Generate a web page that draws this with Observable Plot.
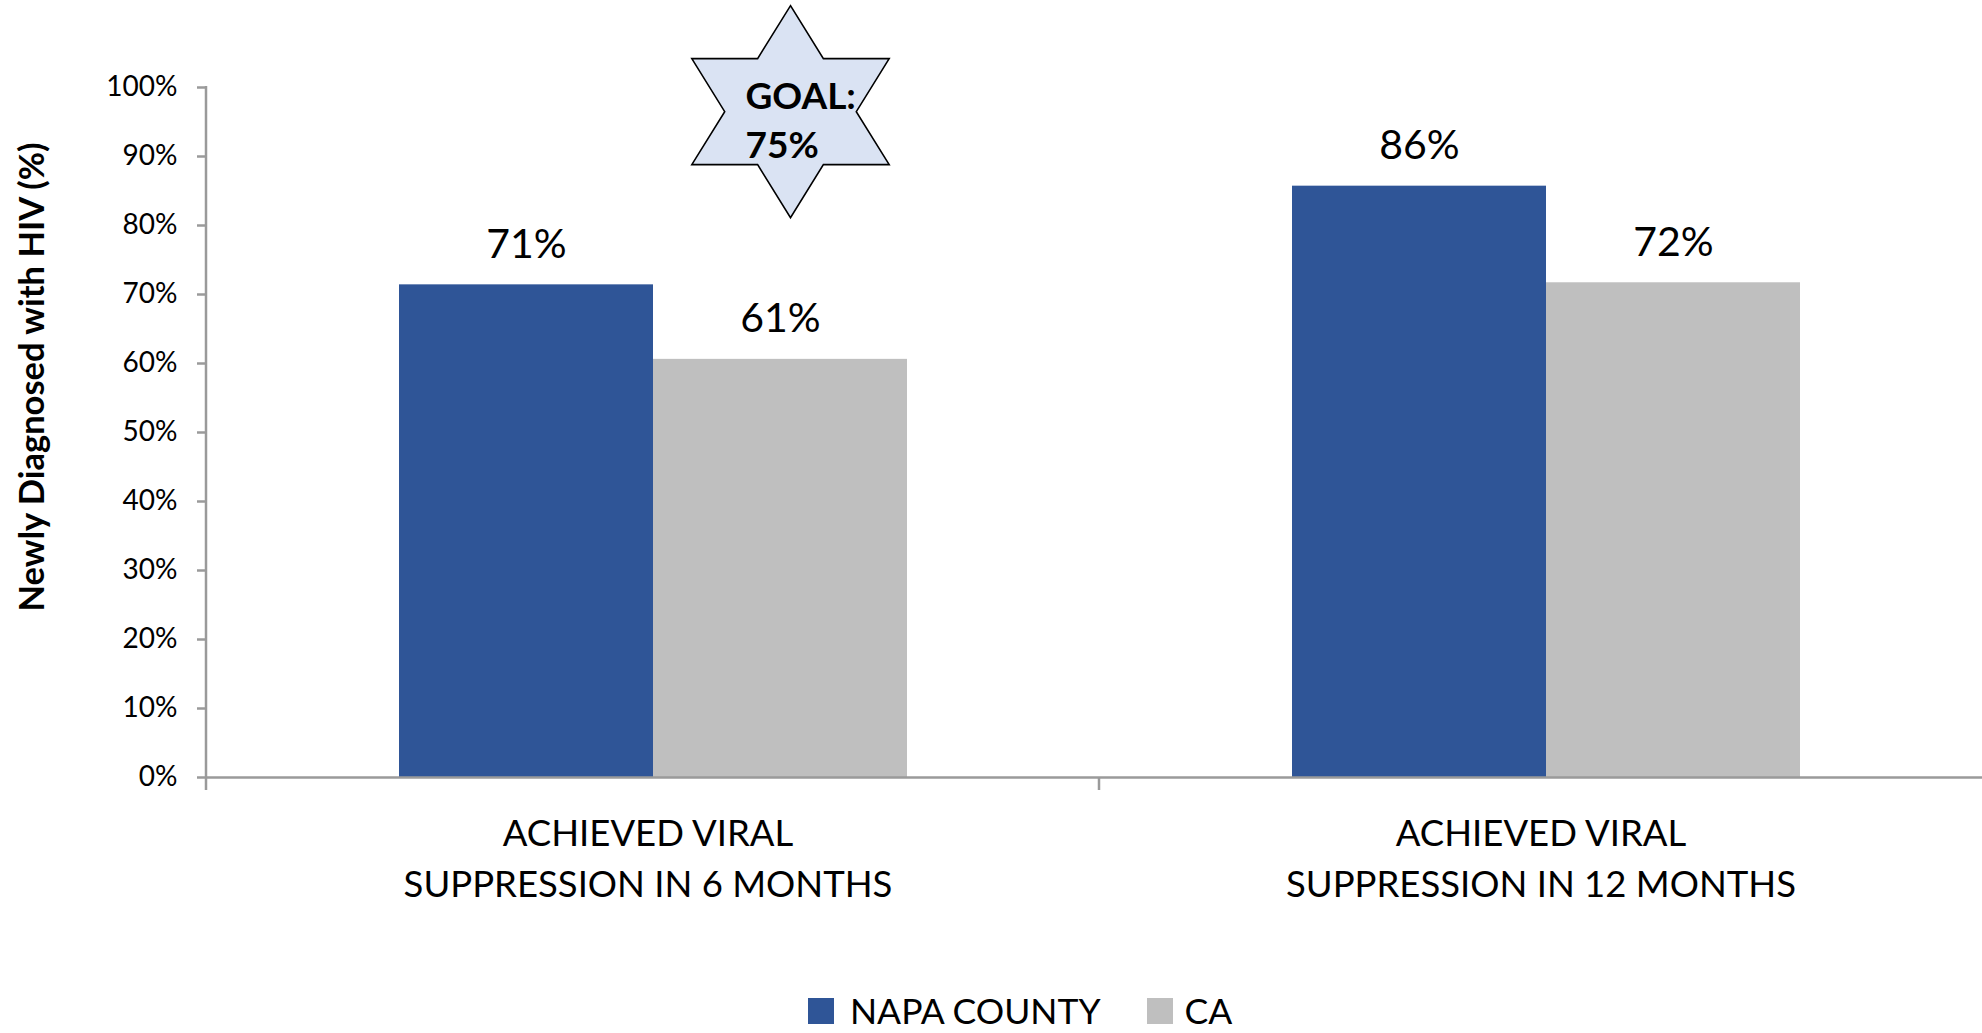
<!DOCTYPE html>
<html><head><meta charset="utf-8">
<script src="https://cdn.jsdelivr.net/npm/d3@7"></script>
<script src="https://cdn.jsdelivr.net/npm/@observablehq/plot@0.6"></script>
<style>
html,body{margin:0;padding:0;background:#fff;overflow:hidden;}
#wrap{position:relative;width:1982px;height:1033px;}
#chart svg{overflow:visible;}
#legend{position:absolute;top:993px;left:808px;display:flex;align-items:center;font-family:Lato,sans-serif;font-size:35.5px;color:#000;line-height:36px;height:36px;}
.sw{width:26px;height:26px;display:inline-block;flex:none;}
</style></head><body><div id="wrap"><div id="chart"></div><div id="legend"></div></div>
<script>
// ---- data ----
const categories = ["6 months", "12 months"];
const categoryLabels = ["ACHIEVED VIRAL\nSUPPRESSION IN 6 MONTHS", "ACHIEVED VIRAL\nSUPPRESSION IN 12 MONTHS"];
const series = ["NAPA COUNTY", "CA"];
const napaValues = [0.714, 0.857];
const caValues = [0.606, 0.717];
const seriesColors = ["#2f5597", "#bfbfbf"];
const yTicks = [0, 0.1, 0.2, 0.3, 0.4, 0.5, 0.6, 0.7, 0.8, 0.9, 1.0];
const yTitle = "Newly Diagnosed with HIV (%)";
const goalLabel = "GOAL:\n75%";
const goalCategory = "6 months";
const goalSeries = "CA";
const goalY = 0.965;

// ---- table ----
const rows = [];
categories.forEach((c, i) => {
  rows.push({category: c, series: series[0], value: napaValues[i]});
  rows.push({category: c, series: series[1], value: caValues[i]});
});
const goal = [{category: goalCategory, series: goalSeries, y: goalY, text: goalLabel}];
const labelOf = new Map(categories.map((c, i) => [c, categoryLabels[i]]));

// hexagram symbol (slightly wider than tall, as in the reference)
const hexagram = {
  draw(ctx, size) {
    const R = Math.sqrt(size / Math.PI), sx = 1.075;
    const r = R / Math.sqrt(3);
    for (let k = 0; k < 12; k++) {
      const a = -Math.PI / 2 + k * Math.PI / 6;
      const rad = k % 2 === 0 ? R : r;
      const px = Math.cos(a) * rad * sx, py = Math.sin(a) * rad;
      if (k === 0) ctx.moveTo(px, py); else ctx.lineTo(px, py);
    }
    ctx.closePath();
  }
};

const font = "Lato, sans-serif";
const chart = Plot.plot({
  width: 1982,
  height: 930,
  marginLeft: 206,
  marginRight: -10,
  marginTop: 87,
  marginBottom: 153,
  style: {fontFamily: font, fontSize: "28px", color: "#000", background: "#fff"},
  fx: {domain: categories, padding: 0, axis: null},
  x: {domain: series, paddingInner: 0, paddingOuter: 0.754, axis: null},
  y: {domain: [0, 1], ticks: yTicks, tickFormat: d3.format(".0%"), tickSize: 9, tickPadding: 20, label: null},
  color: {domain: series, range: seriesColors},
  marks: [
    Plot.barY(rows, {fx: "category", x: "series", y: "value", fill: "series", inset: 0}),
    Plot.ruleY([0], {stroke: "#9a9a9a", strokeWidth: 2.5}),
    Plot.text(rows, {fx: "category", x: "series", y: "value", text: d => d3.format(".0%")(d.value),
      dy: -40, lineAnchor: "middle", fontSize: 41, fill: "#000"}),
    Plot.text(categories, {fx: d => d, text: d => labelOf.get(d), frameAnchor: "bottom",
      lineAnchor: "top", dy: 32, dx: -5, lineHeight: 1.4, fontSize: 36.5, fill: "#000"}),
    Plot.dot(goal, {fx: "category", x: "series", y: "y", symbol: hexagram, r: 106, dx: 10,
      fill: "#dae3f3", stroke: "#000", strokeWidth: 1.6}),
    Plot.text(goal, {fx: "category", x: "series", y: "y", text: "text", textAnchor: "start",
      lineAnchor: "middle", dx: -35, dy: 6, lineHeight: 1.33, fontSize: 37, fontWeight: "bold", fill: "#000"})
  ]
});
document.getElementById("chart").appendChild(chart);

// axis lines and category boundary ticks, positioned from Plot's own scales
const svg = d3.select(chart);
const fxs = chart.scale("fx"), ys = chart.scale("y");
const y0 = ys.apply(0), y1 = ys.apply(1);
const step = fxs.step;
const bounds = categories.map(c => fxs.apply(c));
bounds.push(bounds[bounds.length - 1] + step);
const g = svg.append("g").attr("stroke", "#9a9a9a").attr("stroke-width", 2.5);
g.append("line").attr("x1", bounds[0]).attr("x2", bounds[0]).attr("y1", y1 - 1).attr("y2", y0 + 13);
bounds.slice(1).forEach(b => g.append("line").attr("x1", b).attr("x2", b).attr("y1", y0).attr("y2", y0 + 13));
svg.selectAll('[aria-label="y-axis tick"] path, [aria-label="y-axis"] .tick line').attr("stroke", "#9a9a9a").attr("stroke-width", 2.5);
svg.selectAll('[aria-label="y-axis"] path.domain').remove();

// y title
svg.append("text")
  .attr("transform", `translate(30,${(y0 + y1) / 2 - 55}) rotate(-90)`)
  .attr("text-anchor", "middle").attr("dominant-baseline", "central")
  .attr("font-family", font).attr("font-weight", "bold").attr("font-size", 34.5).attr("fill", "#000")
  .text(yTitle);

// legend
const legend = d3.select("#legend");
series.forEach((s, i) => {
  legend.append("span").attr("class", "sw").style("background", seriesColors[i])
    .style("margin-left", i === 0 ? "0px" : "46px");
  legend.append("span").style("margin-left", i === 0 ? "16px" : "12px").text(s);
});
</script></body></html>
